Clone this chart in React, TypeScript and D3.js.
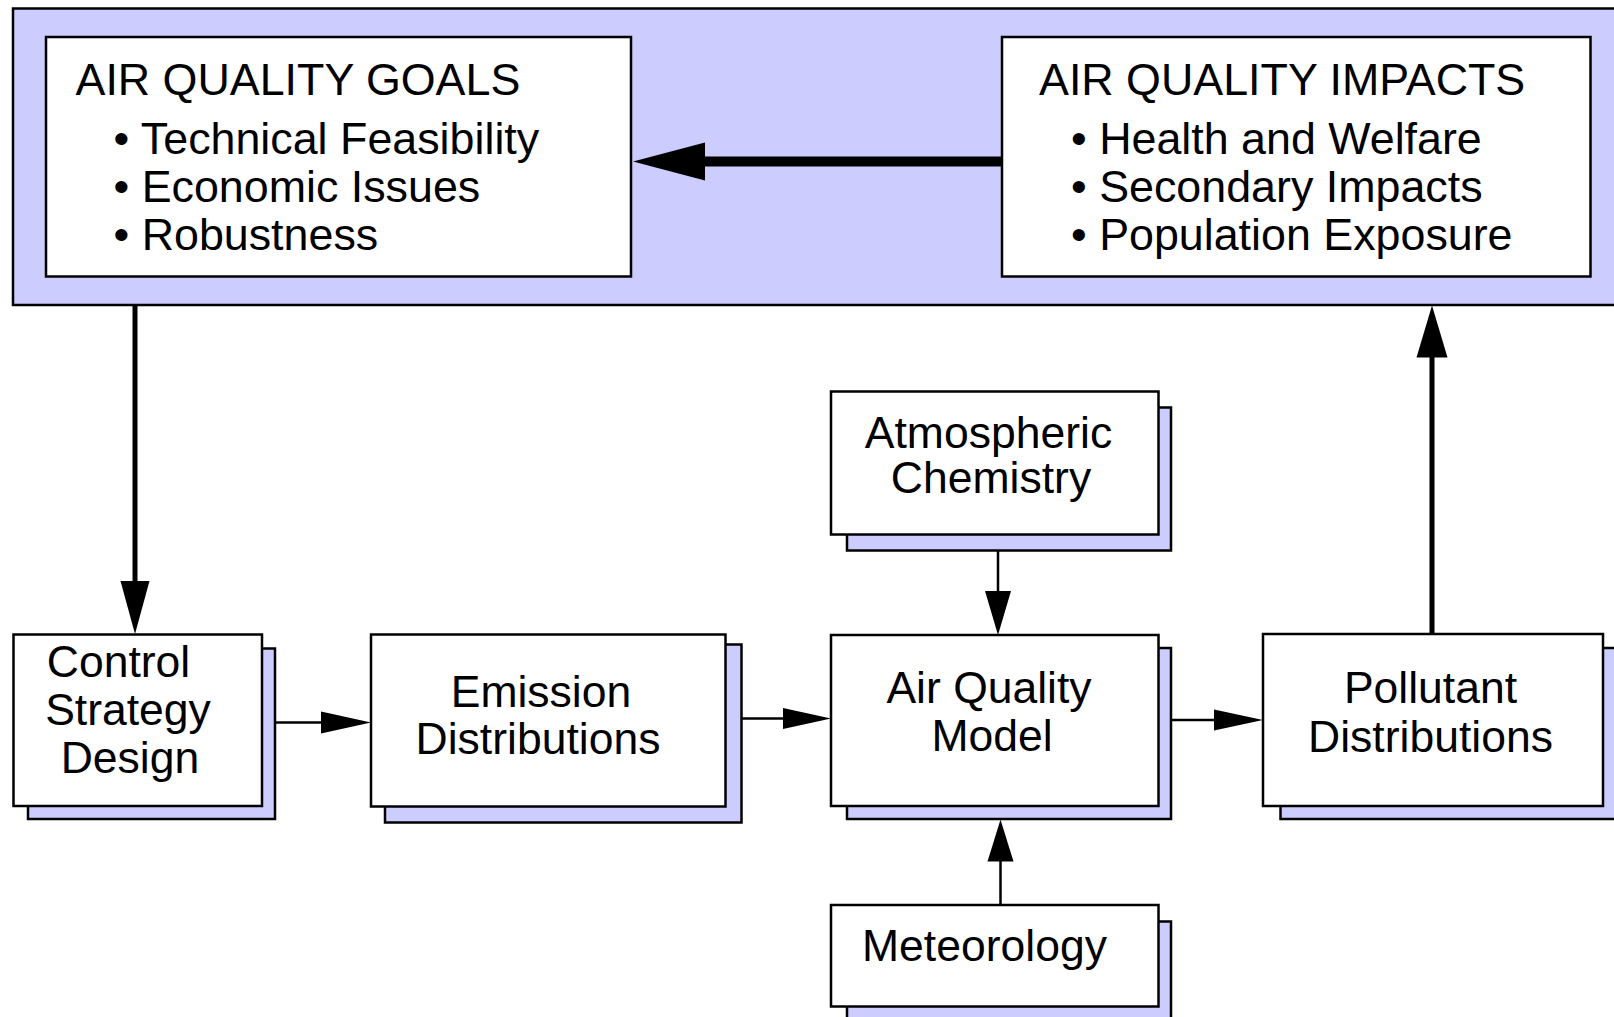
import React, { useRef, useEffect } from "react";
import * as d3 from "d3";

// text content
const goalsTitle = "AIR QUALITY GOALS";
const goalItems = ["Technical Feasibility", "Economic Issues", "Robustness"];
const impactsTitle = "AIR QUALITY IMPACTS";
const impactItems = ["Health and Welfare", "Secondary Impacts", "Population Exposure"];

const nodeIds = ["control", "emission", "atm", "aqm", "pollutant", "met"];
const nodeLines = [
  ["Control", "Strategy", "Design"],
  ["Emission", "Distributions"],
  ["Atmospheric", "Chemistry"],
  ["Air Quality", "Model"],
  ["Pollutant", "Distributions"],
  ["Meteorology"],
];

// links: from -> to
const links = [
  ["control", "emission"],
  ["emission", "aqm"],
  ["atm", "aqm"],
  ["met", "aqm"],
  ["aqm", "pollutant"],
];

const W = 1614;
const H = 1017;
const FILL = "#ccccff";
const FONT = "'Liberation Sans', Arial, Helvetica, sans-serif";

// box geometry: x0,y0,x1,y1 plus shadow edge offsets [l,t,r,b]; text centres/baselines per line
const layout: Record<string, any> = {
  control: { box: [13.5, 634.5, 262, 806], sh: [14.5, 14, 13, 13], tx: [118.5, 128, 130], ty: [677, 725, 773] },
  emission: { box: [371, 634.5, 725.5, 806.5], sh: [14, 10, 16, 16], tx: [541, 538], ty: [707, 754] },
  atm: { box: [831, 391.5, 1158.5, 534.5], sh: [16, 16, 12.5, 16], tx: [988.5, 991], ty: [448, 493] },
  aqm: { box: [831, 635, 1158.5, 806], sh: [16, 13, 12.5, 13], tx: [989, 992], ty: [703, 751] },
  pollutant: { box: [1263, 634, 1603, 806], sh: [17.5, 14, 30, 13], tx: [1430.5, 1430.5], ty: [703, 752] },
  met: { box: [831, 905, 1158.5, 1006.5], sh: [16, 16.5, 12.5, 30], tx: [984.5], ty: [961] },
};

// arrow geometry per link: [x1,y1,x2(tip),y2(tip), headLen, headHalf]
const linkGeom: Record<string, number[]> = {
  "control-emission": [275, 722.5, 371, 722.5, 50, 11],
  "emission-aqm": [741.5, 718.5, 831, 718.5, 48, 10.5],
  "atm-aqm": [998, 550, 998, 635, 44, 13],
  "met-aqm": [1000.5, 905, 1000.5, 819.5, 42, 13],
  "aqm-pollutant": [1171, 720, 1263, 720, 49, 10.5],
};

function drawArrow(g: any, a: number[], width: number) {
  const [x1, y1, x2, y2, len, half] = a;
  const dx = x2 - x1;
  const dy = y2 - y1;
  const d = Math.hypot(dx, dy);
  const ux = dx / d;
  const uy = dy / d;
  const bx = x2 - ux * len;
  const by = y2 - uy * len;
  g.append("line")
    .attr("x1", x1)
    .attr("y1", y1)
    .attr("x2", bx + ux * 2)
    .attr("y2", by + uy * 2)
    .attr("stroke", "#000")
    .attr("stroke-width", width);
  const p = d3.path();
  p.moveTo(x2, y2);
  p.lineTo(bx - uy * half, by + ux * half);
  p.lineTo(bx + uy * half, by - ux * half);
  p.closePath();
  g.append("path").attr("d", p.toString()).attr("fill", "#000");
}

const App: React.FC = () => {
  const ref = useRef<SVGSVGElement | null>(null);

  useEffect(() => {
    if (!ref.current) return;
    const svg = d3.select(ref.current);
    svg.selectAll("*").remove();
    svg.append("rect").attr("width", W).attr("height", H).attr("fill", "#fff");

    // top panel
    const top = svg.append("g");
    top
      .append("rect")
      .attr("x", 13)
      .attr("y", 8.5)
      .attr("width", 1640)
      .attr("height", 296.5)
      .attr("fill", FILL)
      .attr("stroke", "#000")
      .attr("stroke-width", 2.5);

    const panels = [
      { box: [46, 37, 631, 276.5], title: goalsTitle, items: goalItems, tx: 75.5, bx: 113.5 },
      { box: [1002, 37, 1590.5, 276.5], title: impactsTitle, items: impactItems, tx: 1039, bx: 1071 },
    ];
    const itemY = d3.scalePoint<number>().domain([0, 1, 2]).range([154, 250]);

    panels.forEach((pn) => {
      const [x0, y0, x1, y1] = pn.box;
      top
        .append("rect")
        .attr("x", x0)
        .attr("y", y0)
        .attr("width", x1 - x0)
        .attr("height", y1 - y0)
        .attr("fill", "#fff")
        .attr("stroke", "#000")
        .attr("stroke-width", 2.5);
      top
        .append("text")
        .attr("x", pn.tx)
        .attr("y", 95)
        .attr("font-family", FONT)
        .attr("font-size", 44.8)
        .text(pn.title);
      top
        .selectAll(null)
        .data(pn.items)
        .enter()
        .append("text")
        .attr("x", pn.bx)
        .attr("y", (_d: string, i: number) => itemY(i)!)
        .attr("font-family", FONT)
        .attr("font-size", 44.8)
        .text((d: string) => "\u2022 " + d);
    });

    // thick arrows
    drawArrow(svg, [1002, 161.5, 633, 161.5, 72, 19], 10);
    drawArrow(svg, [135, 305, 135, 634, 53, 14.5], 5);
    drawArrow(svg, [1432, 634, 1432, 305.5, 52, 15.5], 5);

    // nodes
    const nodes = svg
      .selectAll("g.node")
      .data(nodeIds)
      .enter()
      .append("g")
      .attr("class", "node");

    nodes.each(function (id: string, i: number) {
      const g = d3.select(this);
      const L = layout[id];
      const [x0, y0, x1, y1] = L.box;
      const [sl, st, sr, sb] = L.sh;
      g.append("rect")
        .attr("x", x0 + sl)
        .attr("y", y0 + st)
        .attr("width", x1 + sr - (x0 + sl))
        .attr("height", y1 + sb - (y0 + st))
        .attr("fill", FILL)
        .attr("stroke", "#000")
        .attr("stroke-width", 2.5);
      g.append("rect")
        .attr("x", x0)
        .attr("y", y0)
        .attr("width", x1 - x0)
        .attr("height", y1 - y0)
        .attr("fill", "#fff")
        .attr("stroke", "#000")
        .attr("stroke-width", 2.5);
      g.selectAll("text")
        .data(nodeLines[i])
        .enter()
        .append("text")
        .attr("x", (_d: string, j: number) => L.tx[j])
        .attr("y", (_d: string, j: number) => L.ty[j])
        .attr("text-anchor", "middle")
        .attr("font-family", FONT)
        .attr("font-size", 44.5)
        .text((d: string) => d);
    });

    // links
    const lg = svg.append("g");
    links.forEach(([a, b]) => {
      drawArrow(lg, linkGeom[`${a}-${b}`], 2.5);
    });
  }, []);

  return (
    <div style={{ position: "fixed", left: 0, top: 0, width: W, height: H, background: "#fff" }}>
      <svg ref={ref} width={W} height={H} style={{ display: "block" }}></svg>
    </div>
  );
};

export default App;
